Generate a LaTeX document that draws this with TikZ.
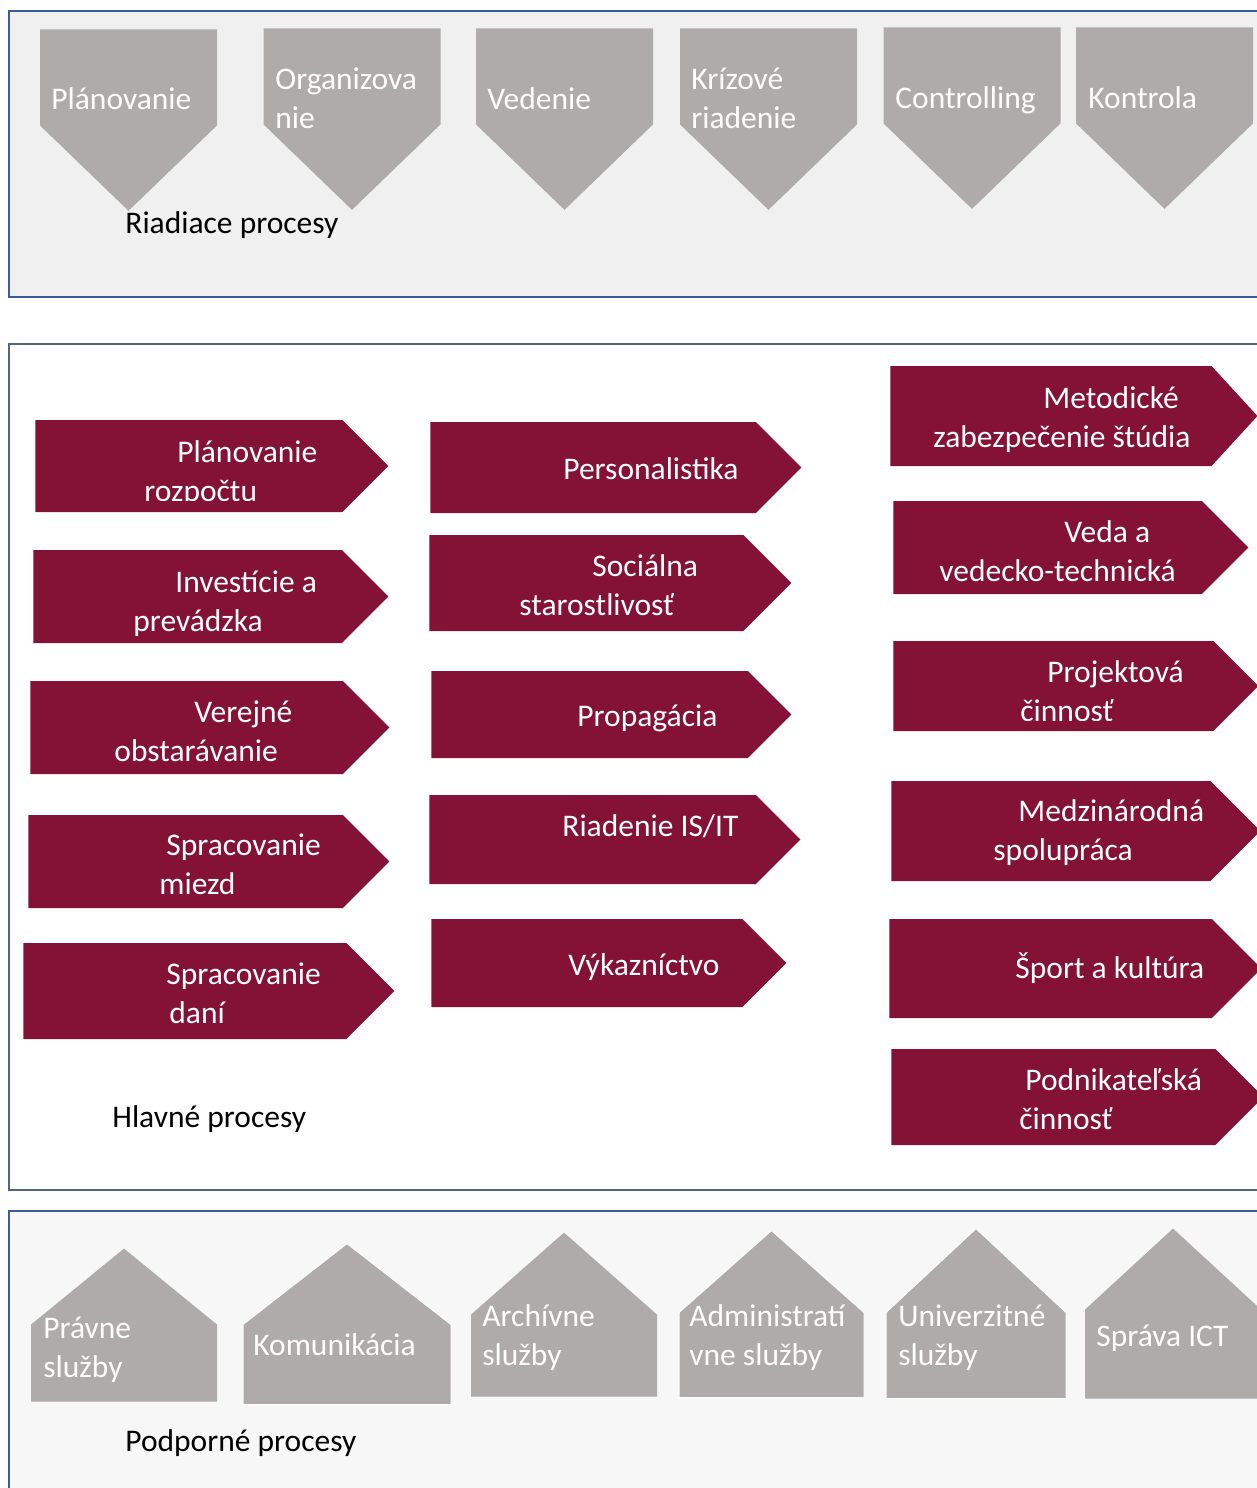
\documentclass[tikz,border=0pt]{standalone}
\usepackage{fontspec}
\setmainfont{Carlito}
\usepackage{xcolor}
\usepackage{tikz}
\usetikzlibrary{shapes,positioning}

\definecolor{bordo}{RGB}{132,18,54}
\definecolor{seda}{RGB}{174,171,170}
\definecolor{ramik}{RGB}{62,92,152}
\definecolor{ramikseda}{RGB}{86,100,128}

\begin{document}
\begin{tikzpicture}[x=1pt, y=-1pt, thick]
    % Stily
    \tikzstyle{ramec}=[draw=ramik, line width=2pt]
    \tikzstyle{riadiaci}=[signal, signal to=south, signal pointer angle=92, fill=seda, minimum width=177pt, minimum height=96pt, anchor=north, inner sep=0pt]
    \tikzstyle{hlavny}=[signal, signal to=east, signal pointer angle=90, fill=bordo, anchor=west, inner sep=0pt]
    \tikzstyle{podporny}=[signal, signal to=north, fill=seda, anchor=south, inner sep=0pt]
    \tikzstyle{popis}=[text=white, font=\fontsize{31.5}{39}\selectfont, align=left, anchor=base west, inner sep=0pt]
    \tikzstyle{nadpis}=[popis, text=black]

    \useasboundingbox (0,0) rectangle (1257,1488);

    % Ramce
    \draw [ramec, fill=black!6] (9,11) rectangle (1280,297);
    \draw [ramec, draw=ramikseda, fill=white] (9,344) rectangle (1280,1190);
    \draw [ramec, fill=black!3] (9,1211) rectangle (1280,1500);

    % Riadiace procesy
    \node (planovanie) [riadiaci] at (128.5,29) {};
    \node (organizovanie) [riadiaci] at (352,28) {};
    \node (vedenie) [riadiaci] at (564.5,28) {};
    \node (krizove) [riadiaci] at (768.5,28) {};
    \node (controlling) [riadiaci] at (972,27) {};
    \node (kontrola) [riadiaci] at (1164.5,27) {};

    \node (t-planovanie) [popis] at (51,109) {Plánovanie};
    \node (t-organizovanie) [popis] at (275,128) {Organizova\\nie};
    \node (t-vedenie) [popis] at (487,109) {Vedenie};
    \node (t-krizove) [popis] at (691,128) {Krízové\\riadenie};
    \node (t-controlling) [popis] at (895,108) {Controlling};
    \node (t-kontrola) [popis] at (1088,108) {Kontrola};
    \node (riadiace) [nadpis] at (125,233) {Riadiace procesy};

    % Hlavne procesy
    \node (rozpocet) [hlavny, minimum width=353pt, minimum height=92pt] at (35,466) {};
    \node (investicie) [hlavny, minimum width=355pt, minimum height=93pt] at (33,596.5) {};
    \node (obstaravanie) [hlavny, minimum width=359pt, minimum height=93pt] at (30,727.5) {};
    \node (mzdy) [hlavny, minimum width=361pt, minimum height=93pt] at (28,861.5) {};
    \node (dane) [hlavny, minimum width=371pt, minimum height=96pt] at (23,991) {};

    \node (personalistika) [hlavny, minimum width=371pt, minimum height=91pt] at (430,467.5) {};
    \node (socialna) [hlavny, minimum width=362pt, minimum height=96pt] at (429,583) {};
    \node (propagacia) [hlavny, minimum width=360pt, minimum height=87pt] at (431,714.5) {};
    \node (isit) [hlavny, minimum width=371pt, minimum height=89pt] at (429,839.5) {};
    \node (vykaznictvo) [hlavny, minimum width=355pt, minimum height=88pt] at (431,963) {};

    \node (metodicke) [hlavny, signal pointer angle=95, minimum width=367pt, minimum height=100pt] at (890,416) {};
    \node (veda) [hlavny, minimum width=355pt, minimum height=93pt] at (893,547.5) {};
    \node (projekty) [hlavny, minimum width=365pt, minimum height=90pt] at (893,686) {};
    \node (medzinarodna) [hlavny, minimum width=369pt, minimum height=100pt] at (891,831) {};
    \node (sport) [hlavny, minimum width=372pt, minimum height=99pt] at (889,968.5) {};
    \node (podnikanie) [hlavny, minimum width=372pt, minimum height=96pt] at (891,1097) {};

    \begin{scope}
        \clip (35,420) rectangle (388,500);
        \node (t-rozpocet) [popis] at (144,501) {\hspace*{33pt}Plánovanie\\rozpočtu};
    \end{scope}
    \node (t-investicie) [popis] at (133,631) {\hspace*{42pt}Investície a\\prevádzka};
    \node (t-obstaravanie) [popis] at (114,761) {\hspace*{80pt}Verejné\\obstarávanie};
    \node (t-mzdy) [popis] at (159,894) {\hspace*{7pt}Spracovanie\\miezd};
    \node (t-dane) [popis] at (166,1023) {Spracovanie\\\hspace*{3pt}daní};

    \node (t-personalistika) [popis] at (563,479) {Personalistika};
    \node (t-socialna) [popis] at (519,615) {\hspace*{73pt}Sociálna\\starostlivosť};
    \node (t-propagacia) [popis] at (577,726) {Propagácia};
    \node (t-isit) [popis] at (562,836) {Riadenie IS/IT};
    \node (t-vykaznictvo) [popis] at (568,975) {Výkazníctvo};

    \node (t-metodicke) [popis] at (933,447) {\hspace*{110pt}Metodické\\zabezpečenie štúdia};
    \node (t-veda) [popis] at (939,581) {\hspace*{125pt}Veda a\\vedecko-technická};
    \begin{scope}
        \clip (893,641) rectangle (1257,720);
        \node (t-projekty) [popis] at (1020,721) {\hspace*{27pt}Projektová\\činnosť};
    \end{scope}
    \node (t-medzinarodna) [popis] at (993,860) {\hspace*{25pt}Medzinárodná\\spolupráca};
    \node (t-sport) [popis] at (1015,978) {Šport a kultúra};
    \node (t-podnikanie) [popis] at (1019,1129) {\hspace*{6pt}Podnikateľská\\činnosť};
    \node (hlavne) [nadpis] at (112,1127) {Hlavné procesy};

    % Podporne procesy
    \node (pravne) [podporny, signal pointer angle=101.5, minimum width=186pt, minimum height=77pt] at (124,1402) {};
    \node (komunikacia) [podporny, draw=white, line width=1pt, signal pointer angle=104.2, minimum width=208pt, minimum height=80pt] at (347,1405) {};
    \node (archivne) [podporny, signal pointer angle=97.2, minimum width=186pt, minimum height=82pt] at (564,1397) {};
    \node (administrativne) [podporny, draw=white, line width=1pt, signal pointer angle=96.9, minimum width=185pt, minimum height=85pt] at (771.5,1398) {};
    \node (univerzitne) [podporny, draw=white, line width=1pt, signal pointer angle=94, minimum width=180pt, minimum height=86pt] at (976,1399) {};
    \node (ict) [podporny, signal pointer angle=94.7, minimum width=176pt, minimum height=89pt] at (1173,1399) {};

    \node (t-pravne) [popis] at (43,1377) {Právne\\služby};
    \node (t-komunikacia) [popis] at (253,1355) {Komunikácia};
    \node (t-archivne) [popis] at (482,1365) {Archívne\\služby};
    \node (t-administrativne) [popis] at (689,1365) {Administratí\\vne služby};
    \node (t-univerzitne) [popis] at (898,1365) {Univerzitné\\služby};
    \node (t-ict) [popis] at (1096,1346) {Správa ICT};
    \node (podporne) [nadpis] at (125,1451) {Podporné procesy};

\end{tikzpicture}
\end{document}
